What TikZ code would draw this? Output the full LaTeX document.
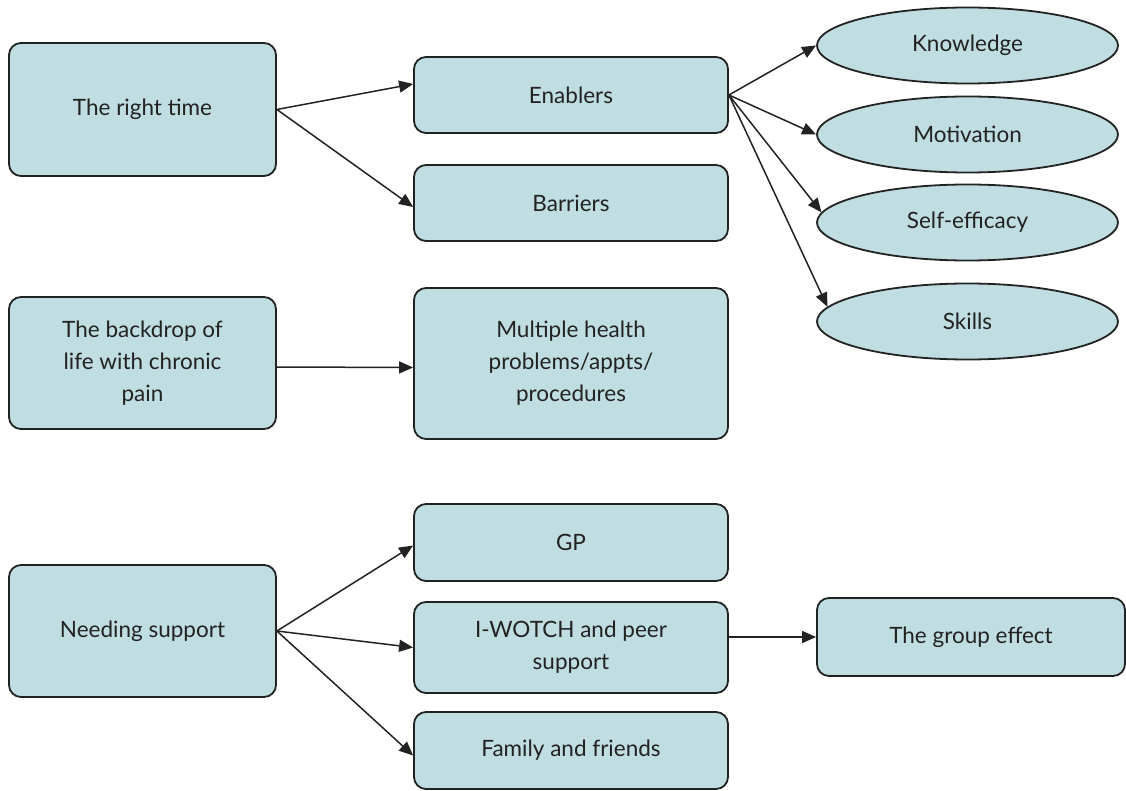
\documentclass[tikz,border=0pt]{standalone}
\usepackage{fontspec}
\setmainfont{Lato}
\usetikzlibrary{arrows.meta,shapes.geometric,calc}
\definecolor{boxfill}{HTML}{C0DDE1}
\definecolor{ink}{HTML}{222222}
\begin{document}
\begin{tikzpicture}[x=1pt,y=-1pt,
  box/.style={draw=ink,line width=1.8pt,fill=boxfill,rounded corners=12pt,
    align=center,font=\fontsize{22.5}{32}\selectfont,text=ink,inner sep=0pt},
  oval/.style={draw=ink,line width=1.8pt,fill=boxfill,ellipse,
    minimum width=301pt,minimum height=76pt,inner sep=0pt,
    font=\fontsize{22.5}{32}\selectfont,text=ink},
  link/.style={draw=ink,line width=1.5pt,-{Triangle[length=14pt,width=12pt]}}]
\useasboundingbox (0,0) rectangle (1126,791);

% left column
\node[box,minimum width=267pt,minimum height=133pt] (rt) at (142.5,109.5) {The right time};
\node[box,minimum width=267pt,minimum height=132pt] (bd) at (142.5,363) {The backdrop of\\life with chronic\\pain};
\node[box,minimum width=267pt,minimum height=132pt] (ns) at (142.5,631) {Needing support};

% middle column
\node[box,minimum width=314pt,minimum height=76pt] (en) at (571,95) {Enablers};
\node[box,minimum width=314pt,minimum height=76pt] (ba) at (571,203) {Barriers};
\node[box,minimum width=314pt,minimum height=151pt] (mh) at (571,363.5) {Multiple health\\problems/appts/\\procedures};
\node[box,minimum width=314pt,minimum height=77pt] (gp) at (571,542.5) {GP};
\node[box,minimum width=314pt,minimum height=91pt] (iw) at (571,647.5) {I-WOTCH and peer\\support};
\node[box,minimum width=314pt,minimum height=77pt] (ff) at (571,750.5) {Family and friends};

% right column
\node[oval] (kn) at (967.5,45.5) {Knowledge};
\node[oval] (mo) at (967.5,134.5) {Motivation};
\node[oval] (se) at (967.5,222.5) {Self-efficacy};
\node[oval] (sk) at (967.5,321.5) {Skills};
\node[box,minimum width=308pt,minimum height=78pt] (ge) at (971,637) {The group effect};

% connectors
\draw[link] (rt.east) -- ($(en.west)+(0,-11)$);
\draw[link] (rt.east) -- ($(ba.west)+(0,4)$);
\draw[link] ($(bd.east)+(0,4)$) -- ($(mh.west)+(0,4)$);
\draw[link] (en.east) -- (kn.west);
\draw[link] (en.east) -- (mo.west);
\draw[link] (en.east) -- (se.176);
\draw[link] (en.east) -- (sk.174);
\draw[link] (ns.east) -- ($(gp.west)+(0,3)$);
\draw[link] (ns.east) -- (iw.west);
\draw[link] (ns.east) -- ($(ff.west)+(0,5)$);
\draw[link] (iw.east |- ge.west) -- (ge.west);
\end{tikzpicture}
\end{document}
